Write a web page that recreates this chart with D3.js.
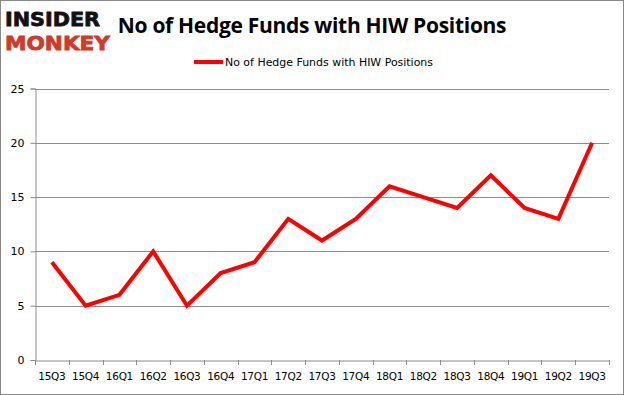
<!DOCTYPE html>
<html><head><meta charset="utf-8">
<script src="https://cdn.jsdelivr.net/npm/d3@7"></script>
<style>body{margin:0;background:#fff}svg{display:block}</style>
</head><body>
<script>
const categories = ["15Q3","15Q4","16Q1","16Q2","16Q3","16Q4","17Q1","17Q2","17Q3","17Q4","18Q1","18Q2","18Q3","18Q4","19Q1","19Q2","19Q3"];
const values = [9,5,6,10,5,8,9,13,11,13,16,15,14,17,14,13,20];
const yTicks = [0,5,10,15,20,25];
const seriesName = "No of Hedge Funds with HIW Positions";
const titleText = "No of Hedge Funds with HIW Positions";

(function(){
const W=625,H=395;
const svg=d3.select("body").append("svg").attr("width",W).attr("height",H);
svg.append("rect").attr("x",0.5).attr("y",0.5).attr("width",W-2).attr("height",H-1).attr("fill","#fff").attr("stroke","#888");

const pL=35,pR=609,pT=88.5,pB=360;
const x=d3.scaleBand().domain(categories).range([pL,pR]);
const y=d3.scaleLinear().domain([0,25]).range([pB,pT]);

svg.append("g").selectAll("line").data(yTicks.filter(d=>d>0)).join("line")
 .attr("x1",pL).attr("x2",pR).attr("y1",d=>Math.round(y(d))+0.5).attr("y2",d=>Math.round(y(d))+0.5)
 .attr("stroke","#8c8c8c").attr("stroke-width",1);

const yAxis=svg.append("g").attr("transform",`translate(${pL+0.5},0)`)
 .call(d3.axisLeft(y).tickValues(yTicks).tickSize(5).tickPadding(6));
yAxis.select(".domain").attr("stroke","#8c8c8c");
yAxis.selectAll(".tick line").attr("stroke","#8c8c8c");
yAxis.selectAll("text").attr("font-family","DejaVu Sans").attr("font-size",11).attr("fill","#000");

const xAxis=svg.append("g").attr("transform",`translate(0,${pB+0.5})`)
 .call(d3.axisBottom(x).tickSize(0).tickPadding(12));
xAxis.select(".domain").attr("stroke","#8c8c8c");
xAxis.selectAll("text").attr("font-family","DejaVu Sans").attr("font-size",10.5).attr("fill","#000").attr("letter-spacing","-0.3");
svg.append("g").selectAll("line").data(categories.concat([null])).join("line")
 .attr("x1",(d,i)=>Math.round(pL+i*x.step())+0.5).attr("x2",(d,i)=>Math.round(pL+i*x.step())+0.5)
 .attr("y1",pB).attr("y2",pB+5).attr("stroke","#8c8c8c");

const line=d3.line().x((d,i)=>x(categories[i])+x.bandwidth()/2).y(d=>y(d));
svg.append("path").datum(values).attr("d",line).attr("fill","none")
 .attr("stroke","#ff0000").attr("stroke-width",4).attr("stroke-linejoin","miter");

svg.append("text").attr("x",312).attr("y",33).attr("text-anchor","middle")
 .attr("font-family","Open Sans, Liberation Sans, sans-serif").attr("font-weight","bold").attr("font-size",21)
 .attr("fill","#000").attr("letter-spacing","-0.3").text(titleText);

svg.append("line").attr("x1",194).attr("x2",223).attr("y1",62).attr("y2",62).attr("stroke","#ff0000").attr("stroke-width",4);
svg.append("text").attr("x",225).attr("y",66).attr("font-family","DejaVu Sans").attr("font-size",11)
 .attr("textLength",208).attr("lengthAdjust","spacingAndGlyphs").attr("fill","#000").text(seriesName);

svg.append("text").attr("x",5).attr("y",26).attr("font-family","DejaVu Sans").attr("font-weight","bold")
 .attr("font-size",19).attr("fill","#111").attr("stroke","#111").attr("stroke-width",0.8)
 .attr("textLength",95).attr("lengthAdjust","spacingAndGlyphs").text("INSIDER");
svg.append("text").attr("x",5).attr("y",50).attr("font-family","DejaVu Sans").attr("font-weight","bold")
 .attr("font-size",19).attr("fill","#d0392b").attr("stroke","#d0392b").attr("stroke-width",0.8)
 .attr("textLength",105).attr("lengthAdjust","spacingAndGlyphs").text("MONKEY");
})();
</script>
</body></html>
